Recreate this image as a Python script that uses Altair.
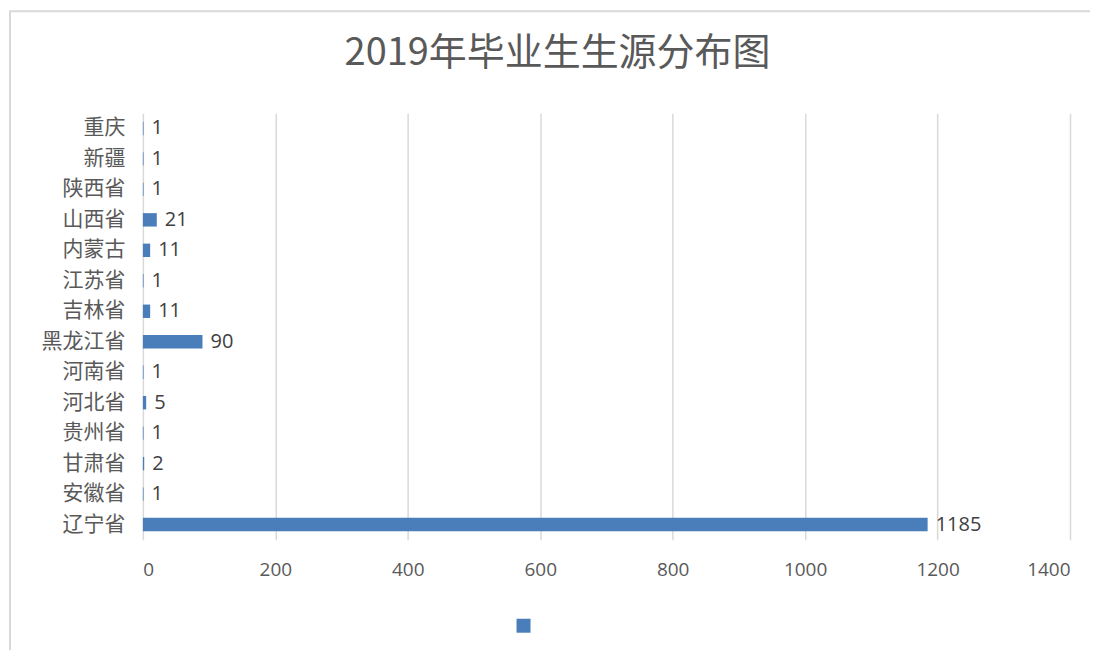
import altair as alt
import pandas as pd

chart_title = "2019年毕业生生源分布图"
provinces = ["重庆", "新疆", "陕西省", "山西省", "内蒙古", "江苏省", "吉林省",
             "黑龙江省", "河南省", "河北省", "贵州省", "甘肃省", "安徽省", "辽宁省"]
counts = [1, 1, 1, 21, 11, 1, 11, 90, 1, 5, 1, 2, 1, 1185]
x_ticks = [0, 200, 400, 600, 800, 1000, 1200, 1400]

df = pd.DataFrame({"省份": provinces, "人数": counts, "系列": [""] * len(provinces)})

W, H = 928, 427
BLUE = "#4a7ebb"
FONT = "Noto Sans CJK SC"

y_enc = alt.Y("省份:N", sort=provinces, title=None,
              scale=alt.Scale(paddingInner=0.56, paddingOuter=0.28),
              axis=alt.Axis(labelFontSize=21, labelColor="#595959", labelFont=FONT,
                            ticks=False, domain=False, labelPadding=18, grid=False))

bars = alt.Chart(df).mark_bar(color=BLUE).encode(
    x=alt.X("人数:Q", title=None,
            scale=alt.Scale(domain=[0, 1400], nice=False),
            axis=alt.Axis(values=x_ticks, format="d", labelFontSize=19, labelColor="#595959",
                          labelFont="Open Sans", ticks=False, domain=False,
                          labelPadding=21, grid=True, gridColor="#d9d9d9",
                          gridWidth=1.5)),
    y=y_enc,
    color=alt.Color("系列:N", scale=alt.Scale(range=[BLUE]),
                    legend=alt.Legend(title=None, orient="none", legendX=374, legendY=506,
                                      symbolType="square", symbolSize=196,
                                      symbolStrokeWidth=0, labelFontSize=1,
                                      symbolFillColor=BLUE)),
)

labels = alt.Chart(df).mark_text(align="left", baseline="middle", dx=8, fontSize=20,
                                 color="#404040", font="Open Sans").encode(
    x="人数:Q",
    y=alt.Y("省份:N", sort=provinces),
    text="人数:Q",
)

deco_df = pd.DataFrame({"t": [chart_title]})
border = alt.Chart(deco_df).mark_rect(fill=None, stroke="#d9d9d9", strokeWidth=2).encode(
    x=alt.value(-133), x2=alt.value(954), y=alt.value(-102), y2=alt.value(560)
)
title_mark = alt.Chart(deco_df).mark_text(
    align="center", baseline="alphabetic", fontSize=38, font=FONT, color="#595959"
).encode(x=alt.value(415), y=alt.value(-48), text="t:N")

chart = alt.layer(border, title_mark, bars, labels).properties(
    width=W, height=H,
    autosize=alt.AutoSizeParams(type="none"),
    padding={"left": 135, "top": 105, "right": 20, "bottom": 110},
).configure(background="white").configure_view(stroke=None)

chart.save("out.html", embed_options={"renderer": "svg", "actions": False})
